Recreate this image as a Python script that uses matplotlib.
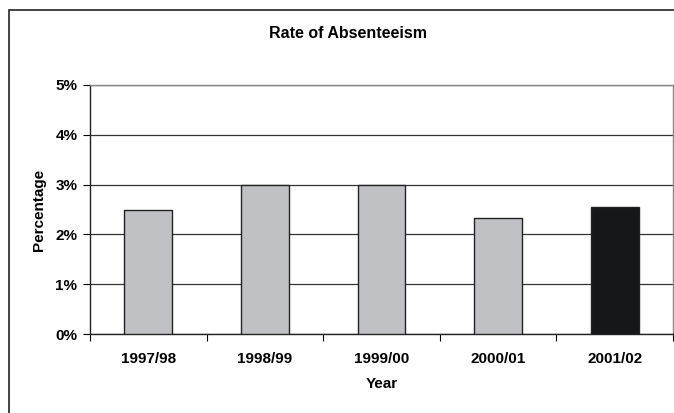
import matplotlib
matplotlib.use("Agg")
import matplotlib.pyplot as plt
from matplotlib.patches import Rectangle
from matplotlib.ticker import FuncFormatter, MultipleLocator, FixedLocator

years = ["1997/98", "1998/99", "1999/00", "2000/01", "2001/02"]
absence_rate = [2.5, 3.0, 3.0, 2.33, 2.56]
bar_colors = ["#c0c1c5", "#c0c1c5", "#c0c1c5", "#c0c1c5", "#161718"]

plt.rcParams["font.family"] = ["Liberation Sans", "DejaVu Sans"]
plt.rcParams["font.weight"] = "bold"

W, H = 674, 413
fig = plt.figure(figsize=(W / 100, H / 100), dpi=100)
ax = fig.add_axes([90 / W, 1 - 334 / H, (673 - 90) / W, (334 - 85) / H])

x = list(range(len(years)))
ax.bar(x, absence_rate, width=0.41, color=bar_colors, edgecolor="#222222",
       linewidth=1.0, zorder=3)

ax.set_xlim(-0.5, len(years) - 0.5)
ax.set_ylim(0, 5)
ax.yaxis.set_major_locator(MultipleLocator(1))
ax.yaxis.set_major_formatter(FuncFormatter(lambda v, p: f"{v:.0f}%"))
ax.grid(axis="y", color="#333333", linewidth=0.9, zorder=0)

ax.set_xticks(x)
ax.set_xticklabels(years)
ax.xaxis.set_minor_locator(FixedLocator([i - 0.5 for i in range(len(years) + 1)]))
ax.tick_params(axis="x", which="major", length=0, pad=13, labelsize=11)
ax.tick_params(axis="x", which="minor", length=5, width=0.8, direction="out")
ax.tick_params(axis="y", length=5, width=0.8, direction="out", pad=4, labelsize=11)

for side in ["left", "bottom"]:
    ax.spines[side].set_color("#222222")
    ax.spines[side].set_linewidth(1.0)
for side in ["top", "right"]:
    ax.spines[side].set_color("#888888")
    ax.spines[side].set_linewidth(1.0)

ax.set_xlabel("Year", fontsize=11, fontweight="bold", labelpad=8)
ax.set_ylabel("Percentage", fontsize=11, fontweight="bold", labelpad=7)
fig.text(348 / W, 1 - 33 / H, "Rate of Absenteeism", ha="center", va="center",
         fontsize=11.5, fontweight="bold")

# chart frame
fig.patches.append(Rectangle((8.5 / W, -0.1), 1.2, 1 - 9.5 / H + 0.1,
                             transform=fig.transFigure, fill=False,
                             edgecolor="#222222", linewidth=1.2))

fig.savefig("out.png", dpi=100)
